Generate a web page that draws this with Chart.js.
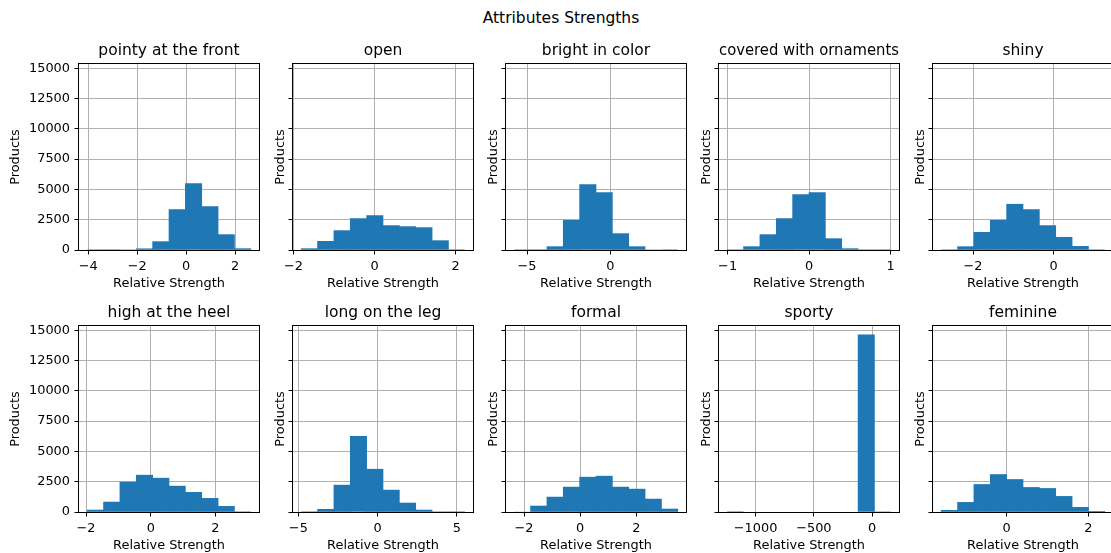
<!DOCTYPE html>
<html>
<head>
<meta charset="utf-8">
<title>Attributes Strengths</title>
<script src="https://cdn.jsdelivr.net/npm/chart.js@4.4.1/dist/chart.umd.min.js"></script>
<style>
  html, body { margin: 0; padding: 0; background: #fff; overflow: hidden; }
  body { width: 1111px; height: 553px; position: relative; font-family: 'DejaVu Sans', sans-serif; }
  #suptitle { position: absolute; top: 8px; left: 0; width: 1122px; text-align: center; font-size: 15.5px; line-height: 20px; color: #000; }
  canvas { position: absolute; }
</style>
</head>
<body>
<div id="suptitle">Attributes Strengths</div>
<script>
const attributes = ['pointy at the front', 'open', 'bright in color', 'covered with ornaments', 'shiny',
                    'high at the heel', 'long on the leg', 'formal', 'sporty', 'feminine'];

// left edge of the first bin and the bin width of each histogram (10 bins each)
const binStarts = [-4.04, -1.81, -5.77, -1.005, -2.79, -1.965, -4.82, -2.352, -1243.5, -1.595];
const binWidths = [0.668, 0.404, 0.981, 0.2007, 0.406, 0.506, 1.033, 0.583, 140.4, 0.3995];

// products per bin
const pointyCounts    = [2, 1, 10, 100, 690, 3336, 5487, 3584, 1268, 110];
const openCounts      = [110, 717, 1599, 2592, 2840, 2013, 1930, 1847, 772, 3];
const brightCounts    = [2, 3, 276, 2454, 5404, 4742, 1351, 276, 15, 3];
const ornamentCounts  = [5, 276, 1268, 2592, 4577, 4742, 937, 110, 5, 3];
const shinyCounts     = [5, 276, 1461, 2454, 3777, 3336, 2013, 1050, 300, 5];
const heelCounts      = [164, 821, 2464, 3039, 2792, 2135, 1620, 1125, 465, 5];
const legCounts       = [3, 219, 2217, 6241, 3531, 1807, 739, 164, 5, 2];
const formalCounts    = [30, 493, 1232, 2053, 2874, 2957, 2053, 1889, 1068, 246];
const sportyCounts    = [1, 0, 0, 0, 0, 0, 0, 0, 14618, 10];
const feminineCounts  = [137, 794, 2272, 3093, 2683, 2026, 1944, 1287, 383, 55];

const xTicks = [[-4, -2, 0, 2], [-2, 0, 2], [-5, 0], [-1, 0, 1], [-2, 0],
                [-2, 0, 2], [-5, 0, 5], [-2, 0, 2], [-1000, -500, 0], [0, 2]];
const yTicks = [0, 2500, 5000, 7500, 10000, 12500, 15000];

const counts = [pointyCounts, openCounts, brightCounts, ornamentCounts, shinyCounts,
                heelCounts, legCounts, formalCounts, sportyCounts, feminineCounts];

// subplot grid layout
const colLefts = [79, 293, 506, 719, 933];
const rowTops = [64, 326];
const plotW = 180, plotH = 186;
const titleH = 22, xAxisH = 41;

Chart.defaults.font.family = "'DejaVu Sans', sans-serif";
Chart.defaults.color = '#000';

const minus = v => String(v).replace('-', '\u2212');

// matplotlib draws a box round every axes
const spines = {
    id: 'spines',
    afterDraw(chart) {
        const {ctx, chartArea: a} = chart;
        ctx.save();
        ctx.strokeStyle = '#000';
        ctx.lineWidth = 1;
        ctx.strokeRect(a.left - 0.5, a.top - 0.5, a.right - a.left + 1, a.bottom - a.top + 1);
        ctx.restore();
    }
};

const yMax = Math.max(...counts.flat()) * 1.05;

counts.forEach((c, i) => {
    const col = i % 5;
    const row = Math.floor(i / 5);
    const yAxisW = col === 0 ? 71 : 20;

    const canvas = document.createElement('canvas');
    canvas.width = yAxisW + plotW + 2;
    canvas.height = titleH + plotH + xAxisH;
    canvas.style.left = (colLefts[col] - yAxisW) + 'px';
    canvas.style.top = (rowTops[row] - titleH) + 'px';
    document.body.appendChild(canvas);

    const start = binStarts[i];
    const w = binWidths[i];
    const bars = c.map((n, k) => ({x: start + (k + 0.5) * w, y: n}));

    const gridOpts = {color: '#b0b0b0', lineWidth: 1, offset: false, tickLength: 4.5, tickColor: '#000', tickWidth: 1};

    new Chart(canvas, {
        type: 'bar',
        data: {
            datasets: [{
                data: bars,
                backgroundColor: '#1f77b4',
                borderWidth: 0,
                barPercentage: 1,
                categoryPercentage: 1,
                // no inflation on near-empty bins, or they show as hairlines
                inflateAmount: ctx => (ctx.raw && ctx.raw.y >= 50) ? 0.33 : 0
            }]
        },
        options: {
            responsive: false,
            animation: false,
            devicePixelRatio: 1,
            layout: {autoPadding: false, padding: {left: 0, top: 0, right: 2, bottom: 0}},
            plugins: {
                legend: {display: false},
                tooltip: {enabled: false},
                title: {
                    display: true,
                    text: attributes[i],
                    fullSize: false,
                    font: {size: 15.5, weight: 'normal'},
                    color: '#000',
                    padding: {top: 0, bottom: 3.4}
                }
            },
            scales: {
                x: {
                    type: 'linear',
                    min: start - 0.5 * w,
                    max: start + 10.5 * w,
                    offset: false,
                    z: 1,
                    afterBuildTicks: s => { s.ticks = xTicks[i].map(v => ({value: v})); },
                    afterFit: s => { s.height = xAxisH; },
                    grid: gridOpts,
                    border: {display: false},
                    ticks: {font: {size: 12.9}, color: '#000', padding: 4.5, maxRotation: 0, autoSkip: false, callback: v => minus(v)},
                    title: {display: true, text: 'Relative Strength', font: {size: 12.9}, color: '#000', padding: 0}
                },
                y: {
                    min: 0,
                    max: yMax,
                    z: 1,
                    afterBuildTicks: s => { s.ticks = yTicks.map(v => ({value: v})); },
                    afterFit: s => { s.width = yAxisW; },
                    grid: gridOpts,
                    border: {display: false},
                    ticks: {font: {size: 12.9}, color: '#000', padding: 4.5, autoSkip: false, callback: v => col === 0 ? String(v) : ''},
                    title: {display: true, text: 'Products', font: {size: 12.9}, color: '#000', padding: 0}
                }
            }
        },
        plugins: [spines]
    });
});
</script>
</body>
</html>
